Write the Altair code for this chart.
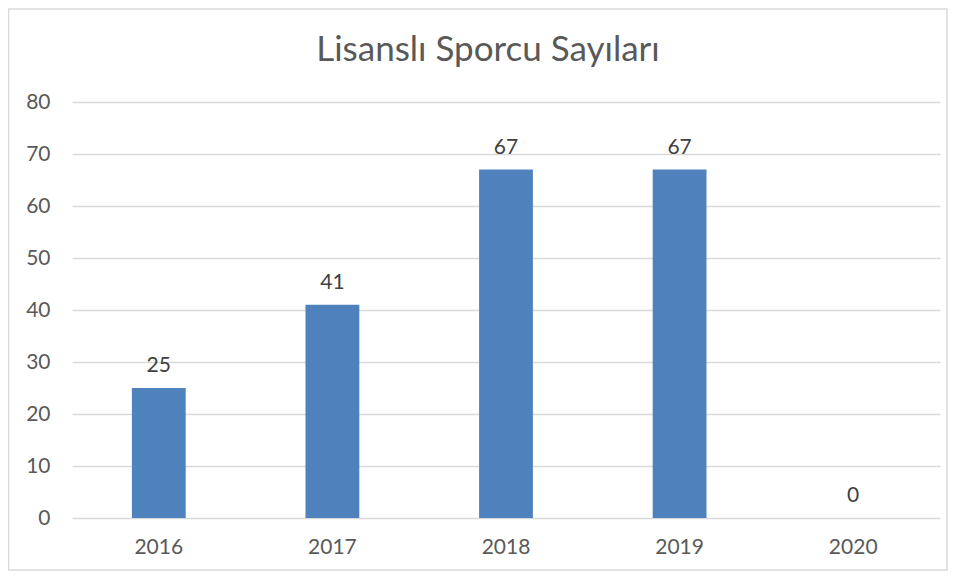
import altair as alt
import pandas as pd

years = ["2016", "2017", "2018", "2019", "2020"]
values = [25, 41, 67, 67, 0]
title_text = "Lisanslı Sporcu Sayıları"

df = pd.DataFrame({"year": years, "value": values})

FONT = "Lato"
W, H = 868, 416

x = alt.X("year:N", sort=years, title=None,
          scale=alt.Scale(paddingInner=0.69, paddingOuter=0.345),
          axis=alt.Axis(labelAngle=0, domain=False, ticks=False, labelPadding=18,
                        labelFont=FONT, labelFontSize=21, labelColor="#595959"))
y = alt.Y("value:Q", title=None,
          scale=alt.Scale(domain=[0, 80]),
          axis=alt.Axis(values=list(range(0, 81, 10)), domain=False, ticks=False,
                        labelPadding=22, grid=True, gridColor="#d9d9d9", gridWidth=1.3,
                        labelFont=FONT, labelFontSize=21, labelColor="#595959"))

base = alt.Chart(df)
bars = base.mark_bar(color="#4f81bd").encode(x=x, y=y)
labels = base.mark_text(baseline="bottom", dy=-12, font=FONT, fontSize=21,
                        color="#404040").encode(x=x, y=y, text="value:Q")

one = pd.DataFrame({"t": [title_text]})
frame = alt.Chart(one).mark_rect(
    fill=None, stroke="#d9d9d9", strokeWidth=1.5
).encode(x=alt.value(-63.5), x2=alt.value(875), y=alt.value(-93), y2=alt.value(468))

title = alt.Chart(one).mark_text(
    font=FONT, fontSize=35, color="#595959", baseline="middle", align="center"
).encode(x=alt.value(416), y=alt.value(-52), text="t:N")

chart = alt.layer(frame, bars, labels, title).properties(
    width=W, height=H,
    autosize=alt.AutoSizeParams(type="none"),
    padding={"left": 64, "top": 94, "right": 9, "bottom": 53},
).configure_view(stroke=None)

chart.save("out.html", embed_options={"renderer": "svg", "actions": False})
